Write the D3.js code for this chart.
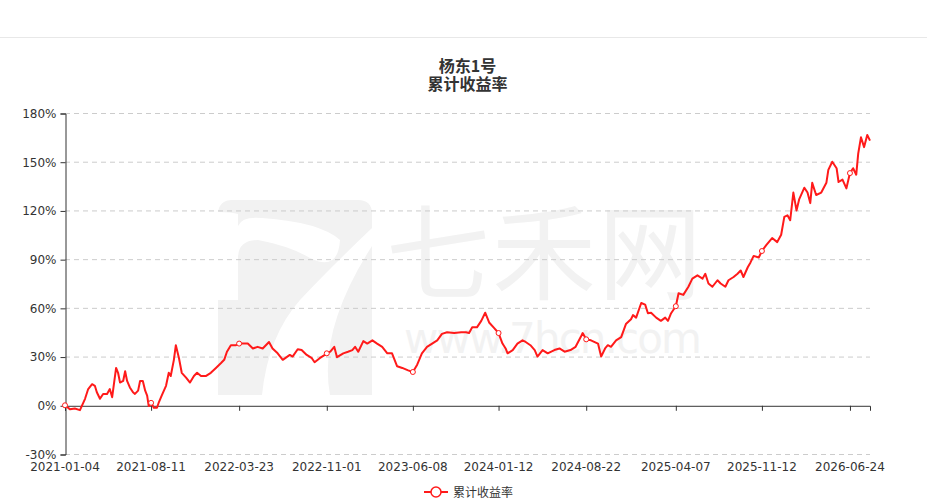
<!DOCTYPE html>
<html>
<head>
<meta charset="utf-8">
<script src="https://cdn.jsdelivr.net/npm/d3@7"></script>
<style>
  body { margin: 0; background: #fff; }
  svg { display: block; }
  text { font-family: "DejaVu Sans", sans-serif; }
  .cjk { font-family: "Noto Sans CJK SC", sans-serif; }
</style>
</head>
<body>
<script>
// 累计收益率 (%)
var dates = ['2021-01-04','2021-01-17','2021-01-29','2021-02-11','2021-02-24','2021-03-04','2021-03-14','2021-03-21','2021-03-26','2021-04-03',
  '2021-04-11','2021-04-21','2021-04-28','2021-05-04','2021-05-14','2021-05-19','2021-05-24','2021-06-01','2021-06-06','2021-06-11',
  '2021-06-18','2021-06-26','2021-07-01','2021-07-09','2021-07-14','2021-07-21','2021-07-27','2021-08-01','2021-08-05','2021-08-11',
  '2021-08-18','2021-08-26','2021-08-31','2021-09-07','2021-09-18','2021-09-25','2021-09-30','2021-10-08','2021-10-13','2021-10-21',
  '2021-10-28','2021-11-08','2021-11-18','2021-11-28','2021-12-06','2021-12-16','2021-12-28','2022-01-10','2022-01-23','2022-02-05',
  '2022-02-13','2022-02-20','2022-03-02','2022-03-15','2022-03-23','2022-04-04','2022-04-14','2022-04-27','2022-05-09','2022-05-22',
  '2022-06-07','2022-06-16','2022-06-29','2022-07-12','2022-07-30','2022-08-06','2022-08-19','2022-08-29','2022-09-11','2022-09-24',
  '2022-10-01','2022-10-14','2022-10-27','2022-11-01','2022-11-10','2022-11-20','2022-11-27','2022-12-13','2022-12-25','2023-01-05',
  '2023-01-12','2023-01-20','2023-02-02','2023-02-12','2023-02-25','2023-03-09','2023-03-22','2023-04-04','2023-04-16','2023-04-29',
  '2023-05-12','2023-05-27','2023-06-08','2023-06-19','2023-07-01','2023-07-14','2023-07-27','2023-08-09','2023-08-21','2023-09-03',
  '2023-09-21','2023-10-09','2023-10-21','2023-10-29','2023-11-06','2023-11-18','2023-11-29','2023-12-09','2023-12-19','2024-01-01',
  '2024-01-12','2024-01-22','2024-01-30','2024-02-04','2024-02-17','2024-02-29','2024-03-13','2024-03-21','2024-04-02','2024-04-13',
  '2024-04-20','2024-05-03','2024-05-16','2024-06-02','2024-06-15','2024-06-28','2024-07-13','2024-07-26','2024-08-08','2024-08-13',
  '2024-08-22','2024-09-03','2024-09-21','2024-09-29','2024-10-09','2024-10-16','2024-10-24','2024-11-06','2024-11-19','2024-12-01',
  '2024-12-14','2024-12-19','2024-12-27','2025-01-09','2025-01-19','2025-01-26','2025-02-03','2025-02-16','2025-02-28','2025-03-11',
  '2025-03-18','2025-03-26','2025-04-07','2025-04-14','2025-04-26','2025-05-09','2025-05-19','2025-06-01','2025-06-14','2025-06-21',
  '2025-06-29','2025-07-09','2025-07-22','2025-07-30','2025-08-11','2025-08-19','2025-09-01','2025-09-11','2025-09-19','2025-09-26',
  '2025-10-07','2025-10-14','2025-10-22','2025-11-04','2025-11-12','2025-11-23','2025-12-08','2025-12-21','2025-12-31','2026-01-08',
  '2026-01-16','2026-01-23','2026-01-31','2026-02-08','2026-02-15','2026-02-28','2026-03-08','2026-03-15','2026-03-20','2026-03-30',
  '2026-04-12','2026-04-25','2026-04-30','2026-05-10','2026-05-21','2026-05-26','2026-06-05','2026-06-15','2026-06-24','2026-07-02',
  '2026-07-10','2026-07-15','2026-07-22','2026-07-30','2026-08-07','2026-08-14'];

var values = [0,-2.5,-2,-3,4,10,13,12,8,4,
  7,7,10,5,23,20,14,15,21,15,
  11,8,7,9,15,15,9,6,-0.5,1.5,
  -1.5,-1.5,2,6,12,20,18,28,37,29,
  20,17,14,18,20,18,18,20,23,26,
  28,33,37,37,38,38,38,35,36,35,
  39,35,32,28,31,30,34.5,34,31,29,
  26.5,29,31,32,33,36,29.6,32,33,34,
  36,33,39.5,38,40,38,36,32,32,24,
  23,21.5,20.5,25,32,36,38,40,44,45,
  44.5,45,45,44.5,48,48,52,57,51,47.5,
  44.5,38,35,32,34,38,40,39,37,34,
  30,34,32,34,35,33,34,36,42,44.5,
  40.6,40,38,30,35,37,36,40,42,50,
  53,55.5,54,63,62,56.7,57,54,52,54,
  52,56.7,61,69,68,73,78,80,78,81,
  75,73,77,75,73,77,79,81,83,79,
  85,88,92,91,95,98.6,103,100.5,105,116,
  117,114,131,120,127,134,131,124.5,137,129.5,
  131,137,145,150,146,137.5,139,133.6,143,146,
  142,155,165,159,166.5,163];

var tickDates = ['2021-01-04','2021-08-11','2022-03-23','2022-11-01','2023-06-08',
  '2024-01-12','2024-08-22','2025-04-07','2025-11-12','2026-06-24'];
var yTicks = [-30, 0, 30, 60, 90, 120, 150, 180];

var seriesName = '累计收益率';
var fundName = '杨东1号';

var width = 927, height = 503;
var margin = {left:65, right:57, top:113, bottom:49};
var lineColor = '#ff1a1a';

var parseDate = d3.timeParse('%Y-%m-%d');
var data = dates.map(function(d, i) { return {date: parseDate(d), value: values[i]}; });

var x = d3.scaleTime()
          .domain(d3.extent(data, function(d) { return d.date; }))
          .range([margin.left, width - margin.right]);

var y = d3.scaleLinear()
          .domain([-30, 180])
          .range([height - margin.bottom, margin.top]);

var svg = d3.select('body').append('svg').attr('width', width).attr('height', height);

// top separator
svg.append('line').attr('x1', 0).attr('x2', width).attr('y1', 37.5).attr('y2', 37.5)
   .attr('stroke', '#e8e8e8').attr('stroke-width', 1);

// watermark (one text element, two lines)
var wm = svg.append('g').attr('fill', '#f2f2f2');
wm.append('path')
  .attr('d', 'M232,200 H358 Q372,200 372,214 V395 H330 Q318,330 372,246 L372,228 Q330,268 300,300 Q268,336 262,395 H218 V300 H238 V258 Q238,240 258,240 Q290,246 310,258 Q338,272 340,240 Q320,222 262,218 Q242,216 238,226 V214 Q232,212 218,212 Q220,200 232,200 Z');
var wmText = wm.append('text');
wmText.append('tspan').attr('class', 'cjk').attr('x', 386).attr('y', 292)
  .attr('font-size', 104).attr('textLength', 316).text('七禾网');
wmText.append('tspan').attr('x', 404).attr('y', 353)
  .attr('font-size', 42).attr('textLength', 298).text('www.7hcn.com');

// grid lines
svg.append('g').selectAll('line').data(yTicks.filter(function(t) { return t !== 0; }))
  .enter().append('line')
  .attr('x1', margin.left).attr('x2', width - margin.right)
  .attr('y1', function(d) { return y(d) + 0.5; }).attr('y2', function(d) { return y(d) + 0.5; })
  .attr('stroke', '#cccccc').attr('stroke-dasharray', '5,4');

// y axis
var yAxis = d3.axisLeft(y).tickValues(yTicks).tickSize(5).tickPadding(4)
              .tickFormat(function(d) { return d + '%'; });
var yg = svg.append('g').attr('transform', 'translate(' + (margin.left + 0.5) + ',0.5)').call(yAxis);
yg.select('.domain').attr('stroke', '#333');
yg.selectAll('.tick line').attr('stroke', '#333');
yg.selectAll('.tick text').attr('font-size', 12).attr('fill', '#333');

// x axis sits on the 0% line, labels at the bottom
var tickVals = tickDates.map(parseDate);
var xAxis = d3.axisBottom(x).tickValues(tickVals).tickSize(5).tickFormat('');
var xg = svg.append('g').attr('transform', 'translate(0,' + (y(0) + 0.5) + ')').call(xAxis);
xg.select('.domain').attr('stroke', '#333');
xg.selectAll('.tick line').attr('stroke', '#333');

svg.append('g').selectAll('text').data(tickVals).enter().append('text')
  .attr('x', function(d) { return x(d); })
  .attr('y', height - margin.bottom + 17)
  .attr('text-anchor', 'middle').attr('font-size', 12).attr('fill', '#333')
  .text(d3.timeFormat('%Y-%m-%d'));

// line
var line = d3.line()
  .x(function(d) { return x(d.date); })
  .y(function(d) { return y(d.value); });

svg.append('path').datum(data)
  .attr('d', line)
  .attr('fill', 'none').attr('stroke', lineColor).attr('stroke-width', 2)
  .attr('stroke-linejoin', 'round');

// symbols at labelled dates
var marked = data.filter(function(d) {
  return tickDates.indexOf(d3.timeFormat('%Y-%m-%d')(d.date)) >= 0;
});
svg.append('g').selectAll('circle').data(marked).enter().append('circle')
  .attr('cx', function(d) { return x(d.date); })
  .attr('cy', function(d) { return y(d.value); })
  .attr('r', 2.5).attr('fill', '#fff').attr('stroke', lineColor).attr('stroke-width', 1);

// title: one text element with two lines
var cx = (margin.left + width - margin.right) / 2;
var title = svg.append('text').attr('class', 'cjk').attr('text-anchor', 'middle')
  .attr('fill', '#333').attr('font-weight', 'bold').attr('font-size', 16);
title.append('tspan').attr('x', cx).attr('y', 72).text(fundName);
title.append('tspan').attr('x', cx).attr('y', 90).text(seriesName);

// legend
var lg = svg.append('g').attr('transform', 'translate(424,492)');
lg.append('line').attr('x1', 0).attr('x2', 24).attr('y1', 0).attr('y2', 0)
  .attr('stroke', lineColor).attr('stroke-width', 2);
lg.append('circle').attr('cx', 12).attr('cy', 0).attr('r', 5)
  .attr('fill', '#fff').attr('stroke', lineColor).attr('stroke-width', 1.5);
lg.append('text').attr('class', 'cjk').attr('x', 29).attr('y', 4.5)
  .attr('font-size', 12).attr('fill', '#333').text(seriesName);
</script>
</body>
</html>
